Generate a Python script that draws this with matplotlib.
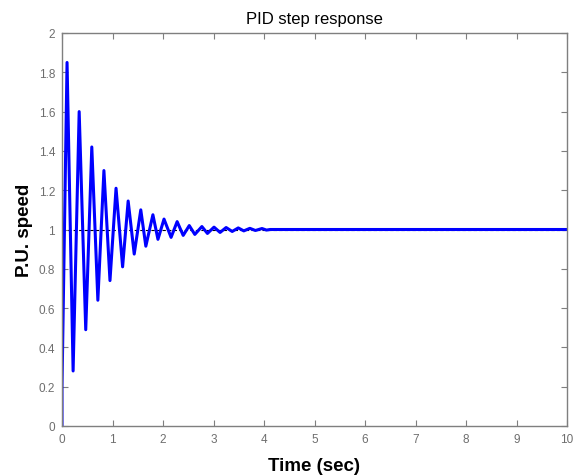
import matplotlib
matplotlib.use("Agg")
import matplotlib.pyplot as plt

# Response: turning points of the damped oscillation
time_s = [0.0, 0.0, 0.10, 0.22, 0.34, 0.47, 0.59, 0.71, 0.83, 0.95, 1.07, 1.20,
          1.31, 1.43, 1.56, 1.66, 1.80, 1.90, 2.02, 2.16, 2.28, 2.40, 2.52, 2.63,
          2.77, 2.88, 3.01, 3.13, 3.25, 3.37, 3.49, 3.60, 3.72, 3.83, 3.96, 4.05,
          4.12, 10.0]
speed_pu = [0.0, 0.2, 1.85, 0.28, 1.60, 0.49, 1.42, 0.64, 1.30, 0.74, 1.21, 0.81,
            1.145, 0.875, 1.10, 0.915, 1.075, 0.95, 1.053, 0.96, 1.04, 0.97, 1.02, 0.975,
            1.015, 0.98, 1.012, 0.985, 1.01, 0.99, 1.008, 0.993, 1.006, 0.995, 1.005, 0.997,
            1.0, 1.0]
setpoint = [1.0, 1.0]
setpoint_t = [0.0, 10.0]
x_ticks = [0, 1, 2, 3, 4, 5, 6, 7, 8, 9, 10]
y_ticks = [0, 0.2, 0.4, 0.6, 0.8, 1, 1.2, 1.4, 1.6, 1.8, 2]
y_tick_labels = ["0", "0.2", "0.4", "0.6", "0.8", "1", "1.2", "1.4", "1.6", "1.8", "2"]

plt.rcParams['font.family'] = ['Liberation Sans', 'DejaVu Sans']

fig = plt.figure(figsize=(5.74, 4.77), dpi=100)
ax = fig.add_axes([62/574, 50/477, 505/574, 393/477])

ax.plot(setpoint_t, setpoint, color='black', linestyle=(0, (3, 2)), linewidth=0.8, zorder=1)
ax.plot(time_s, speed_pu, color='#0000ff', linewidth=2.2, zorder=2)

ax.set_xlim(0, 10)
ax.set_ylim(0, 2)
ax.set_xticks(x_ticks)
ax.set_yticks(y_ticks)
ax.set_yticklabels(y_tick_labels)

gray = '#7f7f7f'
for s in ax.spines.values():
    s.set_color(gray)
    s.set_linewidth(1.0)
ax.tick_params(direction='in', length=4, width=0.8, color=gray, labelcolor='#6e6e6e',
               labelsize=8.5, top=True, right=True, pad=5)

ax.set_title('PID step response', fontsize=12, pad=7)
ax.set_xlabel('Time (sec)', fontsize=13.5, fontweight='bold', labelpad=9)
ax.set_ylabel('P.U. speed', fontsize=13.5, fontweight='bold', labelpad=4)

fig.savefig('out.png', dpi=100)
